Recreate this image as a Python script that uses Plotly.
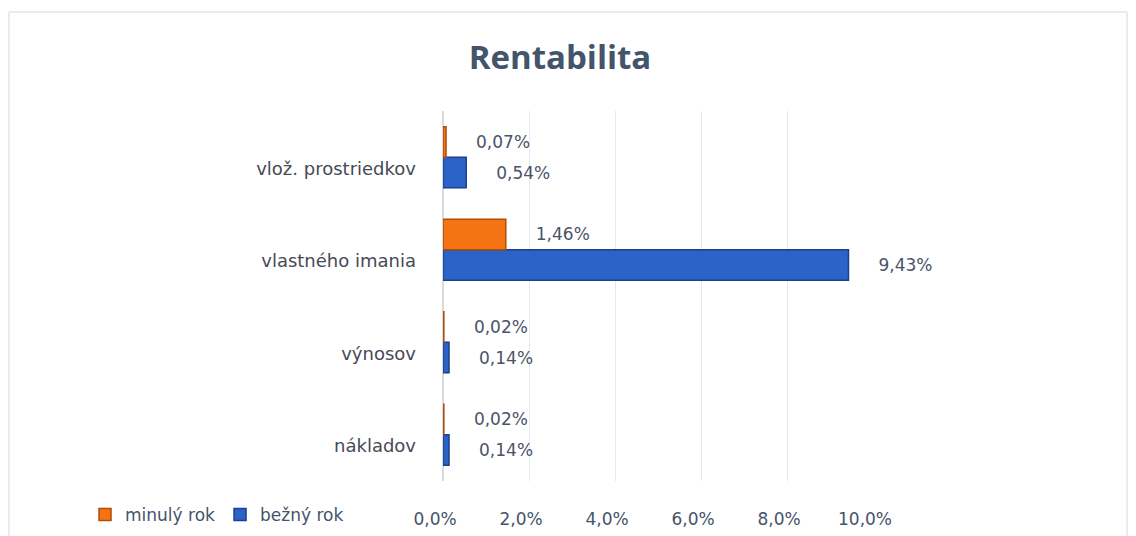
#! /usr/bin/env python3

import plotly.graph_objects as go

# categories listed bottom to top
categories = ['nákladov', 'výnosov', 'vlastného imania', 'vlož. prostriedkov']
minuly_rok = [0.02, 0.02, 1.46, 0.07]
bezny_rok = [0.14, 0.14, 9.43, 0.54]
x_ticks = [0, 2, 4, 6, 8, 10]
x_tick_labels = ['0,0%', '2,0%', '4,0%', '6,0%', '8,0%', '10,0%']


def pct(v):
    # a few non-breaking spaces push the label away from the bar, like in Excel 3D
    return '\u00a0' * 5 + f'{v:.2f}%'.replace('.', ',')


# page body has an 8px margin, so the figure is 8px smaller than the window
W, H = 1128, 528
L, R, T, B = 435, 263, 103, 55
PW, PH = W - L - R, H - T - B

label_font = dict(family='DejaVu Sans', size=17, color='#4a5468')

fig = go.Figure()
fig.add_trace(go.Bar(
    y=categories, x=bezny_rok, orientation='h', name='bežný rok',
    marker=dict(color='#2b63c9', line=dict(color='#1d3f8c', width=1.5)),
    text=[pct(v) for v in bezny_rok], textposition='outside',
    textfont=label_font, cliponaxis=False, legendrank=2,
))
fig.add_trace(go.Bar(
    y=categories, x=minuly_rok, orientation='h', name='minulý rok',
    marker=dict(color='#f47414', line=dict(color='#b24c06', width=1.5)),
    text=[pct(v) for v in minuly_rok], textposition='outside',
    textfont=label_font, cliponaxis=False, legendrank=1,
))

# chart frame: left, top and right edges (bottom runs off the picture)
frame = dict(color='#e3e5ea', width=1.5)
xl, xr = (1 - L) / PW, (1119 - L) / PW
yt, yb = (T + PH - 4) / PH, (T + PH - H - 20) / PH
fig.add_shape(type='line', xref='paper', yref='paper', x0=xl, x1=xl, y0=yb, y1=yt,
              line=frame, layer='below')
fig.add_shape(type='line', xref='paper', yref='paper', x0=xl, x1=xr, y0=yt, y1=yt,
              line=frame, layer='below')
fig.add_shape(type='line', xref='paper', yref='paper', x0=xr, x1=xr, y0=yb, y1=yt,
              line=frame, layer='below')

fig.update_layout(
    width=W, height=H,
    margin=dict(l=L, r=R, t=T, b=B, autoexpand=False),
    paper_bgcolor='white', plot_bgcolor='white',
    barmode='group', bargap=0.34, bargroupgap=0.0,
    title=dict(text='<b>Rentabilita</b>', x=552 / W, xref='container', xanchor='center',
               y=1 - 49 / H, yref='container', yanchor='middle',
               font=dict(family='Open Sans', size=33, color='#44546a')),
    xaxis=dict(range=[0, 10], tickvals=x_ticks, ticktext=x_tick_labels,
               showgrid=True, gridcolor='#e6e8ef', gridwidth=1,
               zeroline=True, zerolinecolor='#d9dbe3',
               ticklabelstandoff=26, ticklabelshift=-8,
               tickfont=dict(family='DejaVu Sans', size=17, color='#44546a')),
    yaxis=dict(showgrid=False, ticklabelstandoff=26, ticklabelshift=11,
               tickfont=dict(family='DejaVu Sans', size=18, color='#454a55')),
    legend=dict(orientation='h', x=(77 - L) / PW, xanchor='left',
                y=-(507 - (T + PH)) / PH, yanchor='middle',
                font=dict(family='DejaVu Sans', size=17, color='#44546a'),
                itemwidth=30),
    showlegend=True,
)

fig.write_html('out.html')
